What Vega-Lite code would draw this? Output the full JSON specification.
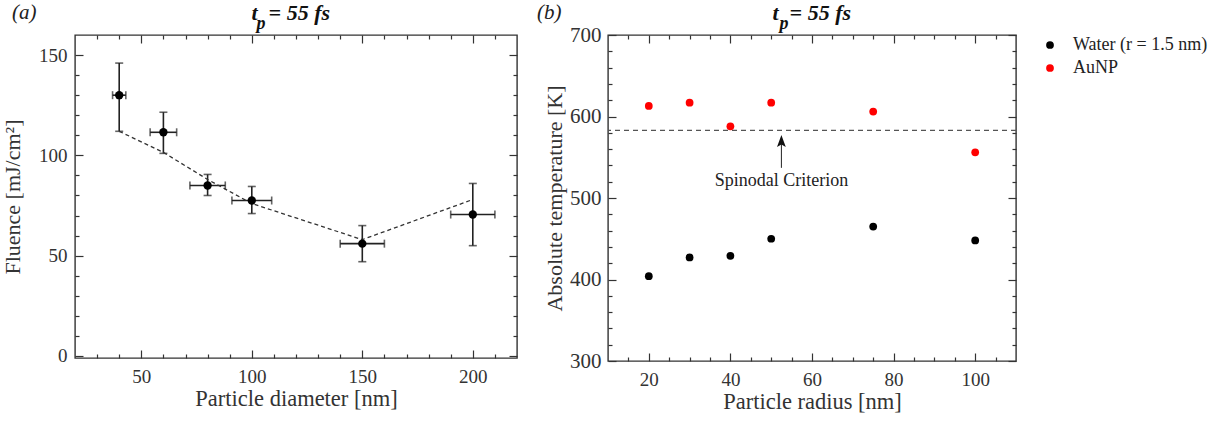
{
  "$schema": "https://vega.github.io/schema/vega-lite/v6.json",
  "padding": {"left": 0, "top": 0, "right": 0, "bottom": 0},
  "autosize": {"type": "pad"},
  "datasets": {
    "fluence": [
      {"d": 40, "f": 130, "flo": 112, "fhi": 146, "dlo": 37, "dhi": 43},
      {"d": 60, "f": 111.5, "flo": 101, "fhi": 121.5, "dlo": 54, "dhi": 66},
      {"d": 80, "f": 85, "flo": 80, "fhi": 90.5, "dlo": 72, "dhi": 88},
      {"d": 100, "f": 77.5, "flo": 71, "fhi": 84.5, "dlo": 91, "dhi": 109},
      {"d": 150, "f": 56, "flo": 47, "fhi": 65, "dlo": 140, "dhi": 160},
      {"d": 200, "f": 70.5, "flo": 55, "fhi": 86, "dlo": 190, "dhi": 210}
    ],
    "fit": [
      {"d": 40, "f": 112},
      {"d": 60, "f": 101.5},
      {"d": 80, "f": 88},
      {"d": 100, "f": 76},
      {"d": 150, "f": 58},
      {"d": 200, "f": 78}
    ],
    "temp": [
      {"r": 20, "T": 404, "s": "Water (r = 1.5 nm)"},
      {"r": 30, "T": 427, "s": "Water (r = 1.5 nm)"},
      {"r": 40, "T": 429, "s": "Water (r = 1.5 nm)"},
      {"r": 50, "T": 450, "s": "Water (r = 1.5 nm)"},
      {"r": 75, "T": 465, "s": "Water (r = 1.5 nm)"},
      {"r": 100, "T": 448, "s": "Water (r = 1.5 nm)"},
      {"r": 20, "T": 613, "s": "AuNP"},
      {"r": 30, "T": 617, "s": "AuNP"},
      {"r": 40, "T": 588, "s": "AuNP"},
      {"r": 50, "T": 617, "s": "AuNP"},
      {"r": 75, "T": 606, "s": "AuNP"},
      {"r": 100, "T": 556, "s": "AuNP"}
    ],
    "annot": [
      {"r": 52.5, "spin": 583, "alo": 537, "ahi": 572, "head": 567.5, "ty": 521, "label": "Spinodal Criterion"}
    ]
  },
  "spacing": 17,
  "hconcat": [
    {
      "width": 442,
      "height": 323,
      "title": {"text": "(a)", "anchor": "start", "frame": "group", "dx": -63, "offset": -22, "fontStyle": "italic", "fontWeight": "normal", "fontSize": 21, "font": "Liberation Serif", "color": "#222"},
      "resolve": {"axis": {"x": "independent", "y": "independent"}},
      "layer": [
        {
          "data": {"name": "fluence"},
          "mark": {"type": "rule", "color": "#222", "strokeWidth": 1.6},
          "encoding": {
            "x": {"field": "d", "type": "quantitative", "scale": {"domain": [20, 220], "nice": false, "zero": false},
              "axis": {"orient": "bottom", "values": [30, 40, 60, 70, 80, 90, 110, 120, 130, 140, 160, 170, 180, 190, 210],
                "labels": false, "domain": false, "grid": false, "tickSize": 4, "offset": -4, "title": null}},
            "y": {"field": "flo", "type": "quantitative", "scale": {"domain": [-1, 160], "nice": false, "zero": false},
              "axis": {"orient": "left", "values": [10, 20, 30, 40, 60, 70, 80, 90, 110, 120, 130, 140],
                "labels": false, "domain": false, "grid": false, "tickSize": 4, "offset": -4, "title": null}},
            "y2": {"field": "fhi"}
          }
        },
        {
          "data": {"name": "fluence"},
          "mark": {"type": "rule", "color": "#222", "strokeWidth": 1.6},
          "encoding": {
            "x": {"field": "dlo", "type": "quantitative",
              "axis": {"orient": "top", "values": [30, 40, 60, 70, 80, 90, 110, 120, 130, 140, 160, 170, 180, 190, 210],
                "labels": false, "domain": false, "grid": false, "tickSize": 4, "offset": -4, "title": null}},
            "x2": {"field": "dhi"},
            "y": {"field": "f", "type": "quantitative",
              "axis": {"orient": "right", "values": [10, 20, 30, 40, 60, 70, 80, 90, 110, 120, 130, 140],
                "labels": false, "domain": false, "grid": false, "tickSize": 4, "offset": -4, "title": null}}
          }
        },
        {
          "data": {"name": "fluence"},
          "mark": {"type": "tick", "orient": "horizontal", "size": 8, "thickness": 1.6, "color": "#222"},
          "encoding": {
            "x": {"field": "d", "type": "quantitative", "axis": null},
            "y": {"field": "flo", "type": "quantitative", "axis": null}
          }
        },
        {
          "data": {"name": "fluence"},
          "mark": {"type": "tick", "orient": "horizontal", "size": 8, "thickness": 1.6, "color": "#222"},
          "encoding": {
            "x": {"field": "d", "type": "quantitative", "axis": null},
            "y": {"field": "fhi", "type": "quantitative", "axis": null}
          }
        },
        {
          "data": {"name": "fluence"},
          "mark": {"type": "tick", "orient": "vertical", "size": 8, "thickness": 1.6, "color": "#222"},
          "encoding": {
            "x": {"field": "dlo", "type": "quantitative", "axis": null},
            "y": {"field": "f", "type": "quantitative", "axis": null}
          }
        },
        {
          "data": {"name": "fluence"},
          "mark": {"type": "tick", "orient": "vertical", "size": 8, "thickness": 1.6, "color": "#222"},
          "encoding": {
            "x": {"field": "dhi", "type": "quantitative", "axis": null},
            "y": {"field": "f", "type": "quantitative", "axis": null}
          }
        },
        {
          "data": {"name": "fit"},
          "mark": {"type": "line", "color": "#333", "strokeWidth": 1.3, "strokeDash": [4, 3]},
          "encoding": {
            "x": {"field": "d", "type": "quantitative",
              "axis": {"orient": "top", "values": [50, 100, 150, 200],
                "labels": false, "domain": false, "grid": false, "tickSize": 8, "offset": -8,
                "title": "t\u00a0\u00a0= 55 fs", "titleX": 176, "titleY": -24, "titleAlign": "left", "titleBaseline": "alphabetic", "titleAngle": 0,
                "titleFontStyle": "italic", "titleFontWeight": "bold", "titleFontSize": 22, "titleColor": "#111"}},
            "y": {"field": "f", "type": "quantitative",
              "axis": {"orient": "right", "values": [0, 50, 100, 150],
                "labels": false, "domain": false, "grid": false, "tickSize": 8, "offset": -8,
                "title": "p", "titleX": -253, "titleY": -7, "titleAlign": "left", "titleBaseline": "alphabetic", "titleAngle": 0,
                "titleFontStyle": "italic", "titleFontWeight": "bold", "titleFontSize": 18, "titleColor": "#111"}}
          }
        },
        {
          "data": {"name": "fluence"},
          "mark": {"type": "point", "filled": true, "shape": "circle", "size": 70, "color": "#000", "opacity": 1},
          "encoding": {
            "x": {"field": "d", "type": "quantitative",
              "axis": {"orient": "bottom", "values": [50, 100, 150, 200], "labelFlush": false,
                "domain": false, "grid": false, "tickSize": 8, "offset": -8,
                "labelPadding": 9, "title": "Particle diameter [nm]", "titlePadding": 1, "titleFontSize": 22.5}},
            "y": {"field": "f", "type": "quantitative",
              "axis": {"orient": "left", "values": [0, 50, 100, 150],
                "domain": false, "grid": false, "tickSize": 8, "offset": -8,
                "labelPadding": 8, "title": "Fluence [mJ/cm\u00b2]", "titlePadding": 14}}
          }
        }
      ]
    },
    {
      "width": 408,
      "height": 326,
      "title": {"text": "(b)", "anchor": "start", "frame": "group", "dx": -71, "offset": -22, "fontStyle": "italic", "fontWeight": "normal", "fontSize": 21, "font": "Liberation Serif", "color": "#222"},
      "resolve": {"axis": {"x": "independent", "y": "independent"}},
      "layer": [
        {
          "data": {"name": "annot"},
          "mark": {"type": "rule", "color": "#555", "strokeWidth": 1.3, "strokeDash": [5, 4]},
          "encoding": {
            "y": {"field": "spin", "type": "quantitative", "scale": {"domain": [300, 700], "nice": false, "zero": false}, "axis": null}
          }
        },
        {
          "data": {"name": "annot"},
          "mark": {"type": "rule", "color": "#222", "strokeWidth": 1},
          "encoding": {
            "x": {"field": "r", "type": "quantitative", "scale": {"domain": [10, 110], "nice": false, "zero": false}, "axis": null},
            "y": {"field": "alo", "type": "quantitative", "axis": null},
            "y2": {"field": "ahi"}
          }
        },
        {
          "data": {"name": "annot"},
          "mark": {"type": "point", "filled": true, "color": "#111", "opacity": 1, "size": 256, "shape": "M0,-1L-0.55,0.5L0,0.2L0.55,0.5Z"},
          "encoding": {
            "x": {"field": "r", "type": "quantitative", "axis": null},
            "y": {"field": "head", "type": "quantitative", "axis": null}
          }
        },
        {
          "data": {"name": "annot"},
          "mark": {"type": "text", "fontSize": 18, "font": "Liberation Serif", "color": "#222", "baseline": "middle", "align": "center"},
          "encoding": {
            "x": {"field": "r", "type": "quantitative", "axis": null},
            "y": {"field": "ty", "type": "quantitative", "axis": null},
            "text": {"field": "label"}
          }
        },
        {
          "data": {"name": "temp"},
          "mark": {"type": "point", "filled": true, "opacity": 0, "size": 1},
          "encoding": {
            "x": {"field": "r", "type": "quantitative",
              "axis": {"orient": "top", "values": [20, 40, 60, 80, 100],
                "labels": false, "domain": false, "grid": false, "tickSize": 8, "offset": -8,
                "title": "t\u00a0\u00a0= 55 fs", "titleX": 164, "titleY": -24, "titleAlign": "left", "titleBaseline": "alphabetic", "titleAngle": 0,
                "titleFontStyle": "italic", "titleFontWeight": "bold", "titleFontSize": 22, "titleColor": "#111"}},
            "y": {"field": "T", "type": "quantitative",
              "axis": {"orient": "right", "values": [300, 400, 500, 600, 700],
                "labels": false, "domain": false, "grid": false, "tickSize": 8, "offset": -8,
                "title": "p", "titleX": -229, "titleY": -7, "titleAlign": "left", "titleBaseline": "alphabetic", "titleAngle": 0,
                "titleFontStyle": "italic", "titleFontWeight": "bold", "titleFontSize": 18, "titleColor": "#111"}}
          }
        },
        {
          "data": {"name": "temp"},
          "mark": {"type": "point", "filled": true, "opacity": 0, "size": 1},
          "encoding": {
            "x": {"field": "r", "type": "quantitative",
              "axis": {"orient": "top", "values": [15, 25, 30, 35, 45, 50, 55, 65, 70, 75, 85, 90, 95, 105],
                "labels": false, "domain": false, "grid": false, "tickSize": 4, "offset": -4, "title": null}},
            "y": {"field": "T", "type": "quantitative",
              "axis": {"orient": "right", "values": [320, 340, 360, 380, 420, 440, 460, 480, 520, 540, 560, 580, 620, 640, 660, 680],
                "labels": false, "domain": false, "grid": false, "tickSize": 4, "offset": -4, "title": null}}
          }
        },
        {
          "data": {"name": "temp"},
          "mark": {"type": "point", "filled": true, "opacity": 0, "size": 1},
          "encoding": {
            "x": {"field": "r", "type": "quantitative",
              "axis": {"orient": "bottom", "values": [15, 25, 30, 35, 45, 50, 55, 65, 70, 75, 85, 90, 95, 105],
                "labels": false, "domain": false, "grid": false, "tickSize": 4, "offset": -4, "title": null}},
            "y": {"field": "T", "type": "quantitative",
              "axis": {"orient": "left", "values": [320, 340, 360, 380, 420, 440, 460, 480, 520, 540, 560, 580, 620, 640, 660, 680],
                "labels": false, "domain": false, "grid": false, "tickSize": 4, "offset": -4, "title": null}}
          }
        },
        {
          "data": {"name": "temp"},
          "mark": {"type": "point", "filled": true, "shape": "circle", "size": 60, "opacity": 1},
          "encoding": {
            "x": {"field": "r", "type": "quantitative",
              "axis": {"orient": "bottom", "values": [20, 40, 60, 80, 100], "labelFlush": false,
                "domain": false, "grid": false, "tickSize": 8, "offset": -8,
                "labelPadding": 9, "title": "Particle radius [nm]", "titlePadding": 1, "titleFontSize": 22.5}},
            "y": {"field": "T", "type": "quantitative",
              "axis": {"orient": "left", "values": [300, 400, 500, 600, 700],
                "domain": false, "grid": false, "tickSize": 8, "offset": -8,
                "labelPadding": 7, "labelFontSize": 21, "title": "Absolute temperature [K]", "titlePadding": 3}},
            "color": {"field": "s", "type": "nominal",
              "scale": {"domain": ["Water (r = 1.5 nm)", "AuNP"], "range": ["#000000", "#ff0000"]},
              "legend": {"title": null, "orient": "none", "legendX": 966, "legendY": 1, "symbolType": "circle", "symbolSize": 60, "symbolStrokeWidth": 0, "labelFontSize": 18, "labelFont": "Liberation Serif", "labelColor": "#222", "rowPadding": 5, "labelOffset": 14}}
          }
        }
      ]
    }
  ],
  "config": {
    "font": "Liberation Serif",
    "view": {"stroke": "#333", "strokeWidth": 1.4},
    "axis": {
      "labelFont": "Liberation Serif", "labelFontSize": 19, "labelColor": "#333",
      "titleFont": "Liberation Serif", "titleFontSize": 22, "titleFontWeight": "normal", "titleColor": "#333",
      "tickColor": "#333", "tickWidth": 1.2
    },
    "title": {"font": "Liberation Serif"}
  }
}
